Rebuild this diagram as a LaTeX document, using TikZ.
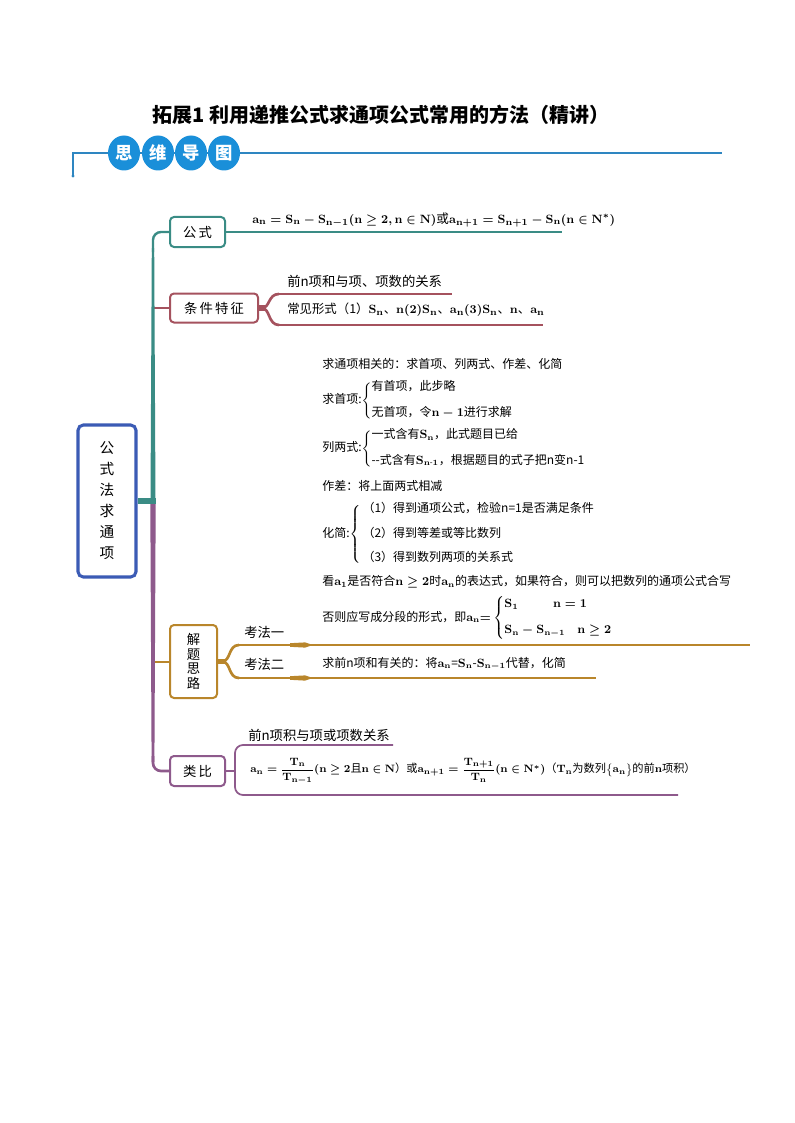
\documentclass[tikz,border=0pt]{standalone}
\usepackage{fontspec}
\setmainfont{Noto Sans CJK SC}
\usepackage{amsmath}
\usetikzlibrary{shapes.geometric}
\definecolor{tealc}{HTML}{3A8C85}
\definecolor{rosec}{HTML}{A5525E}
\definecolor{goldc}{HTML}{B9862B}
\definecolor{purpc}{HTML}{8E5A8C}
\definecolor{rootc}{HTML}{3B5BB5}
\definecolor{headc}{HTML}{2E86C1}
\definecolor{circc}{HTML}{1A8FD9}
\begin{document}
\begin{tikzpicture}[x=0.75pt,y=-0.75pt,
  box/.style={draw, rounded corners=3pt, line width=1.5pt, fill=white, inner sep=0pt, align=center, font=\fontsize{10}{11}\selectfont},
  txt/.style={inner sep=0pt, anchor=west, font=\fontsize{9}{10.5}\selectfont\boldmath},
  btxt/.style={inner sep=0pt, anchor=west, font=\fontsize{10}{12}\selectfont\boldmath},
  circ/.style={ellipse, fill=circc, minimum width=24pt, minimum height=26.25pt, inner sep=0pt, text=white, font=\fontsize{13}{13}\selectfont\bfseries}]
\useasboundingbox[fill=white] (0,0) rectangle (794,1123);

% title and header
\node[font=\fontsize{15}{16}\selectfont\bfseries, inner sep=0pt] (title) at (381,115) {拓展1\hspace{4pt}利用递推公式求通项公式常用的方法（精讲）};
\coordinate (hstart) at (73,176);
\coordinate (hcorner) at (73,153);
\coordinate (hend) at (722,153);
\draw[headc, line width=1pt] (hstart) -- (hcorner) -- (hend);
\fill[headc] (hstart) circle (1.3pt);
\node[circ] (c1) at (124,153) {思};
\node[circ] (c2) at (158,153) {维};
\node[circ] (c3) at (191,153) {导};
\node[circ] (c4) at (224,153) {图};

% nodes
\node[box, draw=rootc, line width=2.3pt, rounded corners=4pt, minimum width=43.5pt, minimum height=114pt, font=\fontsize{11}{15.75}\selectfont] (root) at (107,501) {公\\式\\法\\求\\通\\项};
\node[box, draw=tealc, minimum width=41.25pt, minimum height=22.5pt] (gongshi) at (197.5,232) {公\,式};
\node[box, draw=rosec, minimum width=66pt, minimum height=21.75pt] (tiaojian) at (214,308) {条\,件\,特\,征};
\node[box, draw=goldc, minimum width=35.25pt, minimum height=54.75pt, font=\fontsize{10}{11}\selectfont] (jieti) at (193.5,661.5) {解\\题\\思\\路};
\node[box, draw=purpc, minimum width=41.25pt, minimum height=22.5pt] (leibi) at (197.5,771) {类\,比};

% branch connectors from trunk
\draw[rosec, line width=1.5pt] (tiaojian.west) -- (153,308);
\draw[goldc, line width=1.5pt] (jieti.west) -- (153,661.5);

% purple trunk
\fill[purpc] (150.3,503) -- (155.7,503) -- (154.4,762) -- (151.6,762) -- cycle;
\draw[purpc, line width=2pt, rounded corners=6pt] (153,756) -- (153,771) -- (leibi.west);
% teal trunk
\fill[tealc] (150.5,501) -- (155.5,501) -- (154.2,248) -- (151.8,248) -- cycle;
\draw[tealc, line width=1.8pt, rounded corners=6pt] (153,252) -- (153,232) -- (gongshi.west);
\draw[tealc, line width=4.5pt] (root.east) -- (155.5,501);

% 公式 branch
\draw[tealc, line width=1.3pt] (gongshi.east) -- (562,232);
\node[txt, font=\fontsize{9.5}{11}\selectfont\boldmath] (f1) at (252,220) {$\mathbf{a_n=S_n-S_{n-1}(n\geq 2,n\in N)}$或$\mathbf{a_{n+1}=S_{n+1}-S_n(n\in N^{*})}$};

% 条件特征 branch
\draw[rosec, line width=4pt] (tiaojian.east) -- (265,308);
\draw[rosec, line width=2pt] (262,308) .. controls (270,308) and (268,294) .. (279,294);
\draw[rosec, line width=2pt] (262,308) .. controls (270,308) and (268,325) .. (279,325);
\draw[rosec, line width=1.2pt] (278,294) -- (452,294);
\draw[rosec, line width=1.2pt] (278,325) -- (543,325);
\node[btxt] (t1) at (287,281) {前n项和与项、项数的关系};
\node[btxt, font=\fontsize{9.3}{11}\selectfont\boldmath] (t2) at (287,310) {常见形式（1）$\mathbf{S_n}$、$\mathbf{n(2)S_n}$、$\mathbf{a_n(3)S_n}$、$\mathbf{n}$、$\mathbf{a_n}$};

% 解题思路 branch
\draw[goldc, line width=4pt] (jieti.east) -- (225,661.5);
\draw[goldc, line width=2pt] (222,661.5) .. controls (231,661.5) and (228,645) .. (239,645);
\draw[goldc, line width=2pt] (222,661.5) .. controls (231,661.5) and (228,678) .. (239,678);
\draw[goldc, line width=1.2pt] (238,645) -- (750,645);
\draw[goldc, line width=1.2pt] (238,678) -- (596,678);
\fill[goldc] (290,643.2) -- (305,642.4) -- (313,645) -- (305,647.6) -- (290,646.8) -- cycle;
\fill[goldc] (290,676.2) -- (305,675.4) -- (313,678) -- (305,680.6) -- (290,679.8) -- cycle;
\node[btxt] (kf1) at (244,632) {考法一};
\node[btxt] (kf2) at (244,664) {考法二};

\node[txt] (q0) at (322,364) {求通项相关的：求首项、列两式、作差、化简};
\node[txt] (q1) at (322,400.5) {求首项:$\left\{\begin{array}{@{}l@{}}\mbox{有首项，此步略}\\[8.25pt]\mbox{无首项，令$\mathbf{n-1}$进行求解}\end{array}\right.$};
\node[txt] (q2) at (322,448.5) {列两式:$\left\{\begin{array}{@{}l@{}}\mbox{一式含有$\mathbf{S_n}$，此式题目已给}\\[8.25pt]\mbox{-{}-式含有$\mathbf{S_{n\text{-}1}}$，根据题目的式子把n变n-1}\end{array}\right.$};
\node[txt] (q3) at (322,486) {作差：将上面两式相减};
\node[txt] (q4) at (322,534) {化简:$\left\{\begin{array}{@{}l@{}}\mbox{\hspace{1.5pt}（1）得到通项公式，检验n=1是否满足条件}\\[7.5pt]\mbox{\hspace{1.5pt}（2）得到等差或等比数列}\\[7.5pt]\mbox{\hspace{1.5pt}（3）得到数列两项的关系式}\end{array}\right.$};
\node[txt] (q5) at (322,582) {看$\mathbf{a_1}$是否符合$\mathbf{n\geq 2}$时$\mathbf{a_n}$的表达式，如果符合，则可以把数列的通项公式合写};
\node[txt] (q6) at (322,618) {否则应写成分段的形式，即$\mathbf{a_n}{=}\left\{\begin{array}{@{}l@{}}\mathbf{S_1}\hspace{26pt}\mathbf{n=1}\\[9pt]\mathbf{S_n-S_{n-1}}\hspace{9pt}\mathbf{n\geq 2}\end{array}\right.$};
\node[txt] (q7) at (322,664) {求前n项和有关的：将$\mathbf{a_n}$=$\mathbf{S_n}$-$\mathbf{S_{n-1}}$代替，化简};

% 类比 branch
\draw[purpc, line width=1.5pt] (leibi.east) -- (235,771);
\draw[purpc, line width=1.3pt, rounded corners=6pt] (393,745) -- (235,745) -- (235,795) -- (678,795);
\node[btxt] (l1) at (248,735) {前n项积与项或项数关系};
\node[txt, font=\fontsize{8.4}{10}\selectfont\boldmath] (l2) at (250,771) {$\mathbf{a_n=\dfrac{T_n}{T_{n-1}}(n\geq 2}$且$\mathbf{n\in N}$）或$\mathbf{a_{n+1}=\dfrac{T_{n+1}}{T_n}(n\in N^{*})}$（$\mathbf{T_n}$为数列$\mathbf{\big\{a_n\big\}}$的前$\mathbf{n}$项积）};
\end{tikzpicture}
\end{document}
